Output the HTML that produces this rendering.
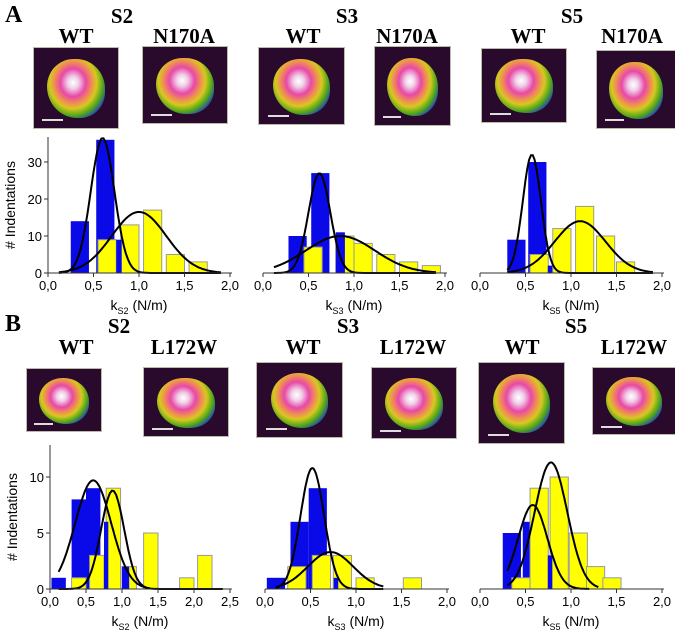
<!DOCTYPE html>
<html><head><meta charset="utf-8"><style>
body{margin:0;background:#fff;width:675px;height:635px;overflow:hidden;position:relative;font-family:"Liberation Sans",sans-serif}
.lbl{position:absolute;font-family:"Liberation Serif",serif;font-weight:bold;font-size:21px;transform:translateX(-50%);white-space:nowrap;line-height:1}
.pl{position:absolute;font-family:"Liberation Serif",serif;font-weight:bold;font-size:24px;line-height:1}
.img{position:absolute;border:1px solid #bba;background:#2a0a2c;overflow:hidden}
.img .blob{position:absolute;left:16%;top:14%;width:68%;height:74%;border-radius:48% 52% 45% 55%;
background:radial-gradient(ellipse at 45% 40%,#fff 0%,#f0d0e8 12%,#e848a8 28%,#f09050 42%,#d8c820 52%,#50a818 66%,#2038d0 80%,#4a1068 92%,rgba(42,10,44,0) 100%)}
.img .bar{position:absolute;left:10%;bottom:9%;width:25%;height:2px;background:#ddd}
</style></head><body>
<svg id="ch" width="675" height="635" style="position:absolute;left:0;top:0"></svg>
<script>
// ---- data ----
const aS2BlueX=[0.35,0.63,0.78];const aS2BlueV=[14,36,9];const aS2BlueW=[0.2,0.2,0.06];
const aS2YelX=[0.65,0.9,1.15,1.4,1.65];const aS2YelV=[9,13,17,5,3];
const aS3BlueX=[0.38,0.63,0.85];const aS3BlueV=[10,27,11];const aS3BlueW=[0.2,0.2,0.1];
const aS3YelX=[0.55,0.9,1.1,1.35,1.6,1.85];const aS3YelV=[7,10,8,5,3,2];
const aS5BlueX=[0.4,0.63,0.77];const aS5BlueV=[9,30,2];const aS5BlueW=[0.2,0.2,0.05];
const aS5YelX=[0.65,0.9,1.15,1.38,1.6];const aS5YelV=[5,12,18,10,3];
const bS2BlueX=[0.12,0.4,0.6,0.78,1.05];const bS2BlueV=[1,8,9,6,2];const bS2BlueW=[0.2,0.2,0.2,0.06,0.1];
const bS2YelX=[0.4,0.65,0.88,1.1,1.4,1.9,2.15];const bS2YelV=[1,3,9,2,5,1,3];
const bS3BlueX=[0.12,0.38,0.58,0.78];const bS3BlueV=[1,6,9,1];const bS3BlueW=[0.2,0.2,0.2,0.05];
const bS3YelX=[0.35,0.62,0.85,1.1,1.62];const bS3YelV=[2,3,3,1,1];
const bS5BlueX=[0.35,0.57,0.77];const bS5BlueV=[5,6,3];const bS5BlueW=[0.2,0.2,0.05];
const bS5YelX=[0.45,0.65,0.87,1.08,1.27,1.45];const bS5YelV=[1,9,10,5,2,1];
// gaussian fits: [mean, sd, peak, xmin, xmax]
const fitA=[[[0.6,0.13,36.5,0.12,1.9],[1.0,0.3,16.5,0.12,1.9]],[[0.62,0.12,27,0.12,1.9],[0.85,0.38,10,0.12,1.9]],[[0.57,0.1,32,0.3,1.9],[1.1,0.28,14,0.3,1.9]]];
const fitB=[[[0.6,0.25,9.7,0.12,1.38],[0.87,0.16,8.8,0.12,2.4]],[[0.52,0.13,10.8,0.12,1.3],[0.72,0.25,3.3,0.12,1.3]],[[0.58,0.16,7.5,0.3,1.2],[0.78,0.18,11.3,0.3,1.3]]];
const tickA=["0,0","0,5","1,0","1,5","2,0"];const tickB1=["0,0","0,5","1,0","1,5","2,0","2,5"];
const yTickA=[0,10,20,30];const yTickB=[0,5,10];
// ---- drawing ----
const svg=document.getElementById('ch');const NS="http://www.w3.org/2000/svg";
function el(t,a,p){const e=document.createElementNS(NS,t);for(const k in a)e.setAttribute(k,a[k]);(p||svg).appendChild(e);return e;}
function plot(name,x0,x1,xmax,y0,ppu,top,ticks,yt,bars,fits,sub,showY){
 const g=el('g',{});
 
 
 const X=v=>x0+(x1-x0)*v/xmax, Y=v=>y0-v*ppu;
 const items=[];
 bars.forEach((b,bi)=>{for(let i=0;i<b.x.length;i++){const w=(b.w?b.w[i]:0.2);items.push({b:b,i:i,w:w,o:(b.w&&w<0.15)?2:bi});}});
 items.sort((a,c)=>a.o-c.o);
 items.forEach(it=>{const b=it.b,i=it.i,w=it.w;
  const r=el('rect',{x:X(b.x[i]-w/2),y:Y(b.v[i]),width:X(w)-x0,height:y0-Y(b.v[i]),fill:b.c,stroke:b.s,'stroke-width':1},g);
  
  });
 fits.forEach(f=>{let d='';for(let k=0;k<=80;k++){const v=f[3]+(f[4]-f[3])*k/80;const yy=f[2]*Math.exp(-0.5*((v-f[0])/f[1])**2);d+=(k?'L':'M')+X(v).toFixed(1)+','+Y(yy).toFixed(1);}
  const p=el('path',{d:d,fill:'none',stroke:'#000','stroke-width':2},g);
  
  });
 el('line',{x1:x0,y1:y0,x2:x1+2,y2:y0,stroke:'#333','stroke-width':1},g);
 ticks.forEach((t,i)=>{const xx=x0+(x1-x0)*i/(ticks.length-1);el('line',{x1:xx,y1:y0,x2:xx,y2:y0+4,stroke:'#333'},g);
  const tx=el('text',{x:xx,y:y0+17,'font-size':13,'text-anchor':'middle','font-family':'Liberation Sans'},g);tx.textContent=t;});
 if(showY){el('line',{x1:x0,y1:y0,x2:x0,y2:top,stroke:'#333'},g);
  yt.forEach(v=>{el('line',{x1:x0-4,y1:Y(v),x2:x0,y2:Y(v),stroke:'#333'},g);
   const tx=el('text',{x:x0-6,y:Y(v)+5,'font-size':13,'text-anchor':'end','font-family':'Liberation Sans'},g);tx.textContent=v;});
  const yl=el('text',{x:0,y:0,'font-size':14,'text-anchor':'middle','font-family':'Liberation Sans',transform:`translate(${x0-33},${(y0+top)/2}) rotate(-90)`},g);
  yl.textContent='# Indentations';
  
  }
 const xl=el('text',{x:(x0+x1)/2,y:y0+37,'font-size':14,'text-anchor':'middle','font-family':'Liberation Sans'},g);
 xl.innerHTML='k<tspan font-size="9" dy="4">'+sub+'</tspan><tspan dy="-4"> (N/m)</tspan>';
 
 
}
const B='#0a0ae8',Yl='#ffff00';
plot('chart-a-s2',48,230,2,273,3.7,137,tickA,yTickA,[{x:aS2BlueX,v:aS2BlueV,w:aS2BlueW,c:B,s:'none',n:'blue'},{x:aS2YelX,v:aS2YelV,c:Yl,s:'#999',n:'yellow'}],fitA[0],'S2',true);
plot('chart-a-s3',263,445,2,273,3.7,137,tickA,yTickA,[{x:aS3BlueX,v:aS3BlueV,w:aS3BlueW,c:B,s:'none',n:'blue'},{x:aS3YelX,v:aS3YelV,c:Yl,s:'#999',n:'yellow'}],fitA[1],'S3',false);
plot('chart-a-s5',480,662,2,273,3.7,137,tickA,yTickA,[{x:aS5BlueX,v:aS5BlueV,w:aS5BlueW,c:B,s:'none',n:'blue'},{x:aS5YelX,v:aS5YelV,c:Yl,s:'#999',n:'yellow'}],fitA[2],'S5',false);
plot('chart-b-s2',50,230,2.5,589,11.2,445,tickB1,yTickB,[{x:bS2BlueX,v:bS2BlueV,w:bS2BlueW,c:B,s:'none',n:'blue'},{x:bS2YelX,v:bS2YelV,c:Yl,s:'#999',n:'yellow'}],fitB[0],'S2',true);
plot('chart-b-s3',265,447,2,589,11.2,445,tickA,yTickB,[{x:bS3BlueX,v:bS3BlueV,w:bS3BlueW,c:B,s:'none',n:'blue'},{x:bS3YelX,v:bS3YelV,c:Yl,s:'#999',n:'yellow'}],fitB[1],'S3',false);
plot('chart-b-s5',480,662,2,589,11.2,445,tickA,yTickB,[{x:bS5BlueX,v:bS5BlueV,w:bS5BlueW,c:B,s:'none',n:'blue'},{x:bS5YelX,v:bS5YelV,c:Yl,s:'#999',n:'yellow'}],fitB[2],'S5',false);
</script>
<div class="pl" style="left:5px;top:3px">A</div>
<div class="pl" style="left:5px;top:312px">B</div>
<div class="lbl" style="left:122px;top:6px">S2</div>
<div class="lbl" style="left:347px;top:6px">S3</div>
<div class="lbl" style="left:572px;top:6px">S5</div>
<div class="lbl" style="left:76px;top:26px">WT</div>
<div class="lbl" style="left:184px;top:26px">N170A</div>
<div class="lbl" style="left:303px;top:26px">WT</div>
<div class="lbl" style="left:407px;top:26px">N170A</div>
<div class="lbl" style="left:528px;top:26px">WT</div>
<div class="lbl" style="left:632px;top:26px">N170A</div>
<div class="lbl" style="left:119px;top:316px">S2</div>
<div class="lbl" style="left:348px;top:316px">S3</div>
<div class="lbl" style="left:576px;top:316px">S5</div>
<div class="lbl" style="left:76px;top:337px">WT</div>
<div class="lbl" style="left:184px;top:337px">L172W</div>
<div class="lbl" style="left:303px;top:337px">WT</div>
<div class="lbl" style="left:413px;top:337px">L172W</div>
<div class="lbl" style="left:522px;top:337px">WT</div>
<div class="lbl" style="left:634px;top:337px">L172W</div>
<div class="img" style="left:33px;top:47px;width:84px;height:80px"><div class="blob"></div><div class="bar"></div></div>
<div class="img" style="left:142px;top:46px;width:84px;height:76px"><div class="blob"></div><div class="bar"></div></div>
<div class="img" style="left:258px;top:47px;width:85px;height:76px"><div class="blob"></div><div class="bar"></div></div>
<div class="img" style="left:374px;top:46px;width:75px;height:78px"><div class="blob"></div><div class="bar"></div></div>
<div class="img" style="left:481px;top:48px;width:84px;height:73px"><div class="blob"></div><div class="bar"></div></div>
<div class="img" style="left:596px;top:50px;width:78px;height:77px"><div class="blob"></div><div class="bar"></div></div>
<div class="img" style="left:26px;top:368px;width:74px;height:62px"><div class="blob"></div><div class="bar"></div></div>
<div class="img" style="left:143px;top:367px;width:84px;height:68px"><div class="blob"></div><div class="bar"></div></div>
<div class="img" style="left:256px;top:362px;width:85px;height:74px"><div class="blob"></div><div class="bar"></div></div>
<div class="img" style="left:371px;top:367px;width:84px;height:70px"><div class="blob"></div><div class="bar"></div></div>
<div class="img" style="left:478px;top:362px;width:85px;height:80px"><div class="blob"></div><div class="bar"></div></div>
<div class="img" style="left:592px;top:367px;width:82px;height:66px"><div class="blob"></div><div class="bar"></div></div>
</body></html>
